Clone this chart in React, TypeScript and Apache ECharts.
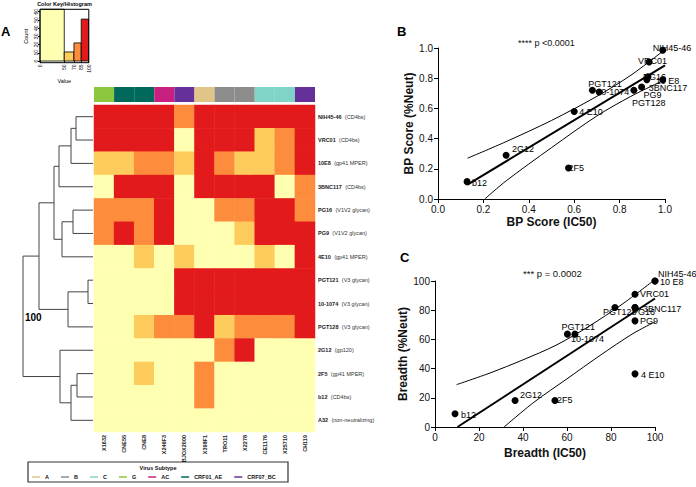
import React, { useEffect, useRef } from "react";
import * as echarts from "echarts";

const FONT = "'Liberation Sans', Arial, Helvetica, sans-serif";

// ---- Panel A: heatmap data ----
const antibodies = ["NIH45-46", "VRC01", "10E8", "3BNC117", "PG16", "PG9", "4E10", "PGT121", "10-1074", "PGT128", "2G12", "2F5", "b12", "A32"];
const epitopes = ["(CD4bs)", "(CD4bs)", "(gp41 MPER)", "(CD4bs)", "(V1V2 glycan)", "(V1V2 glycan)", "(gp41 MPER)", "(V3 glycan)", "(V3 glycan)", "(V3 glycan)", "(gp120)", "(gp41 MPER)", "(CD4bs)", "(non-neutralizing)"];
const viruses = ["X1632", "CNE55", "CNE8", "X246F3", "BJOX2000", "X398F1", "TRO11", "X2278", "CE1176", "X25710", "CH119"];
const virusSubtype = ["G", "CRF01_AE", "CRF01_AE", "AC", "CRF07_BC", "A", "B", "B", "C", "C", "CRF07_BC"];
const subtypeNames = ["A", "B", "C", "G", "AC", "CRF01_AE", "CRF07_BC"];
const subtypeColors = ["#E0C488", "#8C8C8C", "#7FD4C7", "#8DC63F", "#C8207F", "#00695C", "#66309A"];

// neutralization bin per cell: 0 = <50, 1 = 50-70, 2 = 70-85, 3 = 85-100
const neutLevel = [
  [3, 3, 3, 3, 2, 3, 3, 3, 3, 3, 3],
  [3, 3, 3, 3, 0, 3, 3, 3, 1, 2, 3],
  [1, 1, 2, 2, 1, 3, 2, 1, 1, 2, 3],
  [0, 3, 3, 3, 0, 3, 3, 3, 3, 0, 2],
  [2, 2, 2, 3, 0, 0, 2, 2, 3, 3, 2],
  [2, 3, 2, 3, 0, 0, 0, 1, 3, 3, 3],
  [0, 0, 1, 0, 1, 0, 0, 0, 1, 0, 3],
  [0, 0, 0, 0, 3, 3, 3, 3, 3, 3, 3],
  [0, 0, 0, 0, 3, 3, 3, 3, 3, 3, 3],
  [0, 0, 1, 2, 2, 3, 1, 2, 2, 2, 3],
  [0, 0, 0, 0, 0, 0, 2, 3, 0, 0, 0],
  [0, 0, 1, 0, 0, 2, 0, 0, 0, 0, 0],
  [0, 0, 0, 0, 0, 2, 0, 0, 0, 0, 0],
  [0, 0, 0, 0, 0, 0, 0, 0, 0, 0, 0],
];
const levelColors = ["#FFFFB2", "#FECC5C", "#FD8D3C", "#E31A1C"];

// colour key histogram
const histEdges = [0, 50, 70, 85, 100];
const histCounts = [63, 11, 22, 51];
const histTicks = [0, 50, 70, 85, 100];

// dendrogram (hclust-style merges: negative = leaf, positive = earlier merge)
const merges: [number, number, number][] = [
  [-1, -2, 17],
  [1, -3, 22],
  [2, -4, 34],
  [-5, -6, 20],
  [4, -7, 31],
  [3, 5, 39],
  [-8, -9, 5],
  [7, -10, 25],
  [6, 8, 54],
  [-12, -13, 16],
  [10, -14, 22],
  [-11, 11, 33],
  [9, 12, 70],
];

// ---- Panel B ----
const bNames = ["NIH45-46", "VRC01", "10 E8", "3BNC117", "PG16", "PG9", "4 E10", "PGT121", "10-1074", "PGT128", "2G12", "2F5", "b12"];
const bpIC50 = [0.99, 0.93, 0.99, 0.92, 0.925, 0.897, 0.6, 0.68, 0.71, 0.863, 0.3, 0.575, 0.128];
const bpNeut = [0.985, 0.907, 0.79, 0.79, 0.81, 0.742, 0.58, 0.72, 0.709, 0.72, 0.29, 0.205, 0.115];
const fitB = [[0.13, 0.095], [1.0, 0.885]];
const upperB = [[0.13, 0.27], [0.3, 0.38], [0.5, 0.52], [0.7, 0.68], [0.85, 0.82], [1.0, 0.99]];
const lowerB = [[0.206, 0], [0.3, 0.12], [0.5, 0.34], [0.7, 0.55], [0.85, 0.68], [1.0, 0.79]];

// ---- Panel C ----
const cNames = ["NIH45-46", "10 E8", "VRC01", "3BNC117", "PG16", "PG9", "4 E10", "PGT121", "10-1074", "PGT128", "2G12", "2F5", "b12"];
const breadthIC50 = [100, 100, 90.9, 90.9, 90.9, 90.9, 90.9, 60.2, 63.6, 81.8, 36.4, 54.5, 9.1];
const breadthNeut = [100, 100, 90.9, 81.8, 81.8, 72.7, 36.4, 63.6, 63.6, 81.8, 18.2, 18.2, 9.1];
const fitC = [[10.2, 0], [100, 88]];
const upperC = [[9.8, 29], [25, 37], [40, 46], [55, 56], [70, 69], [85, 84], [100, 101]];
const lowerC = [[31.4, 0], [45, 17], [60, 33], [75, 49], [90, 64], [100, 72]];

// label placement (px offsets, style only)
const labelOffsetB: Record<string, [number, number]> = {
  "NIH45-46": [-13.5, -2], VRC01: [-14.5, -1], "10 E8": [-10.5, 1], "3BNC117": [-1.5, 8], PG16: [-8.5, 0],
  PG9: [-1.5, 8], "4 E10": [1.5, 1], PGT121: [-7.5, -6], "10-1074": [-6.5, 0], PGT128: [-5.5, 13],
  "2G12": [2.5, -6], "2F5": [-3.5, 0], b12: [1.5, 1],
};
const labelOffsetC: Record<string, [number, number]> = {
  "NIH45-46": [-0.5, -7], "10 E8": [1.5, 1], VRC01: [1.5, 0], "3BNC117": [4.5, 1], PG16: [-6.5, 4],
  PG9: [1.5, 0], "4 E10": [2.5, 1], PGT121: [-9.5, -7], "10-1074": [-7.5, 5], PGT128: [-15.5, 4],
  "2G12": [1.5, -5], "2F5": [-1.5, 0], b12: [2.5, 1],
};

function dendroLines() {
  const pos: { h: number; y: number }[] = [];
  const get = (id: number) => (id < 0 ? { h: 0, y: -id - 1 } : pos[id - 1]);
  const out: any[] = [];
  for (const [a, b, h] of merges) {
    const A = get(a);
    const B = get(b);
    out.push({ coords: [[A.h, A.y], [h, A.y], [h, B.y], [B.h, B.y]] });
    pos.push({ h, y: (A.y + B.y) / 2 });
  }
  return out;
}

const axisBlack = {
  axisLine: { show: true, onZero: false, lineStyle: { color: "#000", width: 1 } },
  axisTick: { show: true, length: 4, lineStyle: { color: "#000", width: 1 } },
  splitLine: { show: false },
};

export default function App() {
  const ref = useRef<HTMLDivElement>(null);
  useEffect(() => {
    if (!ref.current) return;
    const chart = echarts.init(ref.current, null, { renderer: "svg" });

    const heatData: any[] = [];
    neutLevel.forEach((row, r) => row.forEach((v, c) => heatData.push([c, r, v])));

    const scatterB = bNames.map((n, i) => ({
      name: n,
      value: [bpIC50[i], bpNeut[i]],
      label: { offset: labelOffsetB[n] || [0, 0] },
    }));
    const scatterC = cNames.map((n, i) => ({
      name: n,
      value: [breadthIC50[i], breadthNeut[i]],
      label: { offset: labelOffsetC[n] || [0, 0] },
    }));

    const ptLabel = { show: true, position: "right", distance: 0, formatter: "{b}", fontSize: 9, color: "#000", fontFamily: FONT };
    const legendText = { fontSize: 5.5, fontWeight: "bold", color: "#111", fontFamily: FONT };

    const option: any = {
      animation: false,
      textStyle: { fontFamily: FONT },
      grid: [
        { left: 40, top: 11.7, width: 48.5, height: 49.3 },
        { left: 0, top: 105, width: 93, height: 327 },
        { left: 94, top: 87, width: 221, height: 15 },
        { left: 94, top: 105, width: 221, height: 327 },
        { left: 438, top: 48, width: 227, height: 151 },
        { left: 435, top: 281, width: 220, height: 146 },
      ],
      xAxis: [
        {
          gridIndex: 0, type: "value", min: 0, max: 100, offset: 1.5,
          axisLine: { show: false },
          axisTick: { show: true, length: 2, customValues: histTicks, lineStyle: { color: "#000" } },
          axisLabel: { customValues: histTicks, rotate: 90, fontSize: 5, color: "#000", margin: 2 },
          splitLine: { show: false },
          name: "Value", nameLocation: "middle", nameGap: 15, nameTextStyle: { fontSize: 5.5, color: "#000" },
        },
        { gridIndex: 1, type: "value", min: 0, max: 93, inverse: true, show: false },
        { gridIndex: 2, type: "category", data: viruses, show: false },
        {
          gridIndex: 3, type: "category", data: viruses, position: "bottom",
          axisLine: { show: false }, axisTick: { show: false },
          axisLabel: { rotate: 90, fontSize: 5.5, fontWeight: "bold", color: "#222", margin: 3, interval: 0 },
        },
        {
          gridIndex: 4, type: "value", min: 0, max: 1, interval: 0.2, ...axisBlack,
          axisLabel: { fontSize: 10, color: "#111", formatter: (v: number) => v.toFixed(1), margin: 5 },
          name: "BP Score (IC50)", nameLocation: "middle", nameGap: 17,
          nameTextStyle: { fontSize: 12, fontWeight: "bold", color: "#111" },
        },
        {
          gridIndex: 5, type: "value", min: 0, max: 100, interval: 20, ...axisBlack,
          axisLabel: { fontSize: 10, color: "#111", margin: 5 },
          name: "Breadth (IC50)", nameLocation: "middle", nameGap: 20,
          nameTextStyle: { fontSize: 12, fontWeight: "bold", color: "#111" },
        },
      ],
      yAxis: [
        {
          gridIndex: 0, type: "value", min: 0, max: 60, interval: 10,
          axisLine: { show: false },
          axisTick: { show: true, length: 2, lineStyle: { color: "#000" } },
          axisLabel: { rotate: 90, fontSize: 5, color: "#000", margin: 2 },
          splitLine: { show: false },
          name: "Count", nameLocation: "middle", nameGap: 11, nameRotate: 90, nameTextStyle: { fontSize: 5.5, color: "#000" },
        },
        { gridIndex: 1, type: "value", min: -0.5, max: 13.5, inverse: true, show: false },
        { gridIndex: 2, type: "category", data: ["subtype"], show: false },
        {
          gridIndex: 3, type: "category", data: antibodies, inverse: true, position: "right",
          axisLine: { show: false }, axisTick: { show: false },
          axisLabel: {
            margin: 3, interval: 0,
            formatter: (v: string, i: number) => `{b|${v}} {n|${epitopes[i]}}`,
            rich: {
              b: { fontSize: 5.5, fontWeight: "bold", color: "#222", fontFamily: FONT },
              n: { fontSize: 5.5, color: "#333", fontFamily: FONT },
            },
          },
        },
        {
          gridIndex: 4, type: "value", min: 0, max: 1, interval: 0.2, ...axisBlack,
          axisLabel: { fontSize: 10, color: "#111", formatter: (v: number) => v.toFixed(1), margin: 5 },
          name: "BP Score (%Neut)", nameLocation: "middle", nameGap: 20, nameRotate: 90,
          nameTextStyle: { fontSize: 12, fontWeight: "bold", color: "#111" },
        },
        {
          gridIndex: 5, type: "value", min: 0, max: 100, interval: 20, ...axisBlack,
          axisLabel: { fontSize: 10, color: "#111", margin: 5 },
          name: "Breadth (%Neut)", nameLocation: "middle", nameGap: 21, nameRotate: 90,
          nameTextStyle: { fontSize: 12, fontWeight: "bold", color: "#111" },
        },
      ],
      visualMap: {
        type: "piecewise", show: false, seriesIndex: [3], dimension: 2,
        pieces: levelColors.map((c, i) => ({ value: i, color: c })),
      },
      legend: {
        left: 32, top: 474, padding: 0, icon: "rect", itemWidth: 8, itemHeight: 1.5, itemGap: 12,
        textStyle: legendText,
        inactiveColor: "#111",
        data: subtypeNames.map((n) => ({ name: n, textStyle: legendText })),
        selectedMode: false,
      },
      series: [
        {
          type: "custom", xAxisIndex: 0, yAxisIndex: 0,
          data: histCounts.map((c, i) => [histEdges[i], histEdges[i + 1], c]),
          encode: { x: [0, 1], y: 2 },
          renderItem: (params: any, api: any) => {
            const p0 = api.coord([api.value(0), api.value(2)]);
            const p1 = api.coord([api.value(1), 0]);
            return {
              type: "rect",
              shape: { x: p0[0], y: p0[1], width: p1[0] - p0[0], height: p1[1] - p0[1] },
              style: { fill: levelColors[params.dataIndex], stroke: "#000", lineWidth: 0.8 },
            };
          },
        },
        {
          type: "lines", coordinateSystem: "cartesian2d", xAxisIndex: 1, yAxisIndex: 1, polyline: true,
          lineStyle: { color: "#444", width: 1, opacity: 1 },
          data: dendroLines(),
        },
        {
          type: "custom", xAxisIndex: 2, yAxisIndex: 2,
          data: virusSubtype.map((_, i) => [i, 0]),
          renderItem: (params: any, api: any) => {
            const c = api.coord([api.value(0), 0]);
            const s = api.size([1, 1]);
            const color = subtypeColors[subtypeNames.indexOf(virusSubtype[params.dataIndex])];
            return {
              type: "rect",
              shape: { x: c[0] - s[0] / 2, y: c[1] - s[1] / 2, width: s[0], height: s[1] },
              style: { fill: color },
            };
          },
        },
        {
          type: "heatmap", xAxisIndex: 3, yAxisIndex: 3, data: heatData,
          itemStyle: { borderWidth: 0 },
        },
        {
          type: "scatter", xAxisIndex: 4, yAxisIndex: 4, symbolSize: 7,
          itemStyle: { color: "#000", opacity: 1 }, label: ptLabel, data: scatterB, z: 5,
        },
        { type: "line", xAxisIndex: 4, yAxisIndex: 4, data: fitB, symbol: "none", lineStyle: { color: "#000", width: 2 } },
        { type: "line", xAxisIndex: 4, yAxisIndex: 4, data: upperB, symbol: "none", smooth: 0.3, lineStyle: { color: "#000", width: 1 } },
        { type: "line", xAxisIndex: 4, yAxisIndex: 4, data: lowerB, symbol: "none", smooth: 0.3, lineStyle: { color: "#000", width: 1 } },
        {
          type: "scatter", xAxisIndex: 5, yAxisIndex: 5, symbolSize: 7,
          itemStyle: { color: "#000", opacity: 1 }, label: ptLabel, data: scatterC, z: 5,
        },
        { type: "line", xAxisIndex: 5, yAxisIndex: 5, data: fitC, symbol: "none", lineStyle: { color: "#000", width: 2 } },
        { type: "line", xAxisIndex: 5, yAxisIndex: 5, data: upperC, symbol: "none", smooth: 0.3, lineStyle: { color: "#000", width: 1 } },
        { type: "line", xAxisIndex: 5, yAxisIndex: 5, data: lowerC, symbol: "none", smooth: 0.3, lineStyle: { color: "#000", width: 1 } },
        ...subtypeNames.map((n, i) => ({
          type: "line", name: n, xAxisIndex: 4, yAxisIndex: 4, data: [],
          itemStyle: { color: subtypeColors[i] }, lineStyle: { color: subtypeColors[i] },
        })),
      ],
      graphic: [
        { type: "text", left: 1, top: 25, style: { text: "A", font: `bold 13px ${FONT}`, fill: "#000" } },
        { type: "text", x: 64.5, y: 1, style: { text: "Color Key/Histogram", font: `bold 5.5px ${FONT}`, fill: "#000", textAlign: "center" } },
        { type: "rect", shape: { x: 40, y: 9.3, width: 48.8, height: 53.4 }, style: { fill: "none", stroke: "#000", lineWidth: 1 }, z: 10 },
        { type: "text", x: 25, y: 312, style: { text: "100", font: `bold 10px ${FONT}`, fill: "#000" } },
        { type: "rect", shape: { x: 28, y: 462, width: 260, height: 20 }, style: { fill: "none", stroke: "#333", lineWidth: 1.2 } },
        { type: "text", x: 158, y: 465, style: { text: "Virus Subtype", font: `bold 5.5px ${FONT}`, fill: "#111", textAlign: "center" } },
        { type: "text", x: 397, y: 25, style: { text: "B", font: `bold 13px ${FONT}`, fill: "#000" } },
        { type: "text", x: 400, y: 251, style: { text: "C", font: `bold 13px ${FONT}`, fill: "#000" } },
        { type: "text", x: 518, y: 38, style: { text: "**** p <0.0001", font: `9px ${FONT}`, fill: "#111" } },
        { type: "text", x: 523, y: 268, style: { text: "*** p = 0.0002", font: `9.5px ${FONT}`, fill: "#111" } },
      ],
    };
    chart.setOption(option);
    return () => chart.dispose();
  }, []);
  return <div ref={ref} style={{ position: "fixed", left: 0, top: 0, width: 696, height: 487, background: "#fff" }} />;
}
